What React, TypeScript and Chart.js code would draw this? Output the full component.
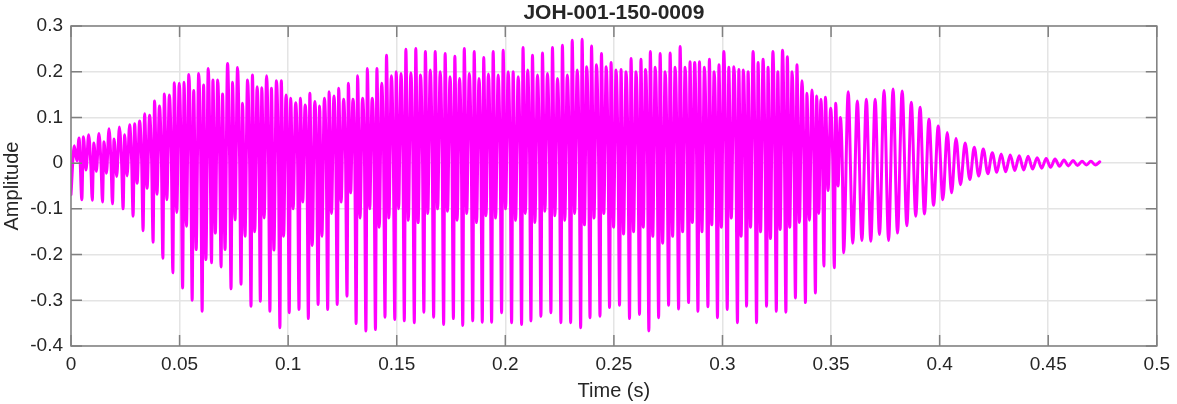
import React, { useEffect, useRef } from "react";
import { Chart, registerables } from "chart.js";

Chart.register(...registerables);

const TITLE = "JOH-001-150-0009";
const X_LABEL = "Time (s)";
const Y_LABEL = "Amplitude";

const xTicks = [0, 0.05, 0.1, 0.15, 0.2, 0.25, 0.3, 0.35, 0.4, 0.45, 0.5];
const yTicks = [-0.4, -0.3, -0.2, -0.1, 0, 0.1, 0.2, 0.3];

// opening samples before the first glottal pulse
const leadTime = [0, 0.0015, 0.0027, 0.0037];
const leadAmp = [-0.069, 0.038, 0.005, 0.055];

// voiced part: one entry per pitch cycle (time of the negative spike)
const cycleStart = [
  0.0050, 0.0098, 0.0145, 0.0191, 0.0240, 0.0286, 0.0332, 0.0378, 0.0423, 0.0469, 0.0514, 0.0558, 0.0604, 0.0647, 0.0691, 0.0737, 0.0783,
  0.0829, 0.0872, 0.0916, 0.0962, 0.1005, 0.1050, 0.1093, 0.1138, 0.1182, 0.1226, 0.1271, 0.1313, 0.1358, 0.1402, 0.1446, 0.1491, 0.1535, 0.1581, 0.1625, 0.1670,
  0.1716, 0.1761, 0.1804, 0.1850, 0.1894, 0.1937, 0.1983, 0.2029, 0.2075, 0.2118, 0.2164, 0.2210, 0.2256, 0.2301, 0.2347, 0.2390, 0.2436, 0.2480, 0.2526,
  0.2572, 0.2618, 0.2661, 0.2706, 0.2752, 0.2798, 0.2844, 0.2887, 0.2933, 0.2977, 0.3022, 0.3069, 0.3111, 0.3157, 0.3203, 0.3248, 0.3292, 0.3336, 0.3382, 0.3428,
  0.3467, 0.3515,
];
const spikeMin = [
  -0.080, -0.081, -0.085, -0.089, -0.100, -0.116, -0.148, -0.173, -0.208, -0.240, -0.273, -0.300, -0.324, -0.218, -0.227, -0.275, -0.265,
  -0.313, -0.302, -0.324, -0.360, -0.327, -0.320, -0.340, -0.309, -0.320, -0.309, -0.291, -0.351, -0.367, -0.364, -0.337, -0.342, -0.345, -0.349, -0.326, -0.337,
  -0.353, -0.340, -0.355, -0.345, -0.348, -0.348, -0.327, -0.349, -0.353, -0.345, -0.335, -0.327, -0.349, -0.349, -0.360, -0.338, -0.335, -0.316, -0.311,
  -0.340, -0.331, -0.367, -0.338, -0.311, -0.319, -0.305, -0.324, -0.314, -0.338, -0.320, -0.349, -0.313, -0.349, -0.313, -0.324, -0.326, -0.295, -0.305, -0.284,
  -0.225, -0.229,
];
const peakA = [
  0.058, 0.044, 0.047, 0.053, 0.062, 0.086, 0.108, 0.136, 0.151, 0.176, 0.177, 0.159, 0.171, 0.182, 0.151, 0.177, 0.131,
  0.193, 0.165, 0.164, 0.180, 0.142, 0.142, 0.153, 0.125, 0.156, 0.164, 0.175, 0.191, 0.207, 0.207, 0.236, 0.200, 0.249, 0.251, 0.244, 0.244,
  0.240, 0.234, 0.251, 0.244, 0.231, 0.244, 0.247, 0.200, 0.253, 0.236, 0.241, 0.253, 0.258, 0.269, 0.271, 0.256, 0.240, 0.220, 0.205,
  0.229, 0.227, 0.244, 0.240, 0.241, 0.255, 0.222, 0.222, 0.227, 0.215, 0.210, 0.205, 0.200, 0.220, 0.210, 0.200, 0.233, 0.215, 0.153, 0.147,
  0.144, 0.131,
];
const dipMin = [
  -0.015, -0.018, -0.022, -0.029, -0.028, -0.044, -0.055, -0.068, -0.080, -0.108, -0.138, -0.189, -0.211, -0.153, -0.189, -0.124, -0.160,
  -0.150, -0.120, -0.190, -0.160, -0.100, -0.085, -0.180, -0.160, -0.110, -0.085, -0.065, -0.120, -0.100, -0.140, -0.120, -0.100, -0.125, -0.130, -0.110, -0.100,
  -0.105, -0.125, -0.110, -0.130, -0.115, -0.120, -0.100, -0.125, -0.110, -0.130, -0.105, -0.115, -0.125, -0.110, -0.135, -0.120, -0.110, -0.140, -0.155,
  -0.150, -0.140, -0.160, -0.175, -0.160, -0.150, -0.130, -0.150, -0.135, -0.140, -0.120, -0.160, -0.140, -0.150, -0.165, -0.145, -0.140, -0.130, -0.125, -0.110,
  -0.060, -0.050,
];
const peakB = [
  0.062, 0.065, 0.075, 0.079, 0.084, 0.092, 0.105, 0.125, 0.149, 0.175, 0.194, 0.196, 0.207, 0.182, 0.218, 0.209, 0.182,
  0.167, 0.191, 0.180, 0.149, 0.132, 0.127, 0.135, 0.142, 0.147, 0.140, 0.140, 0.142, 0.142, 0.175, 0.191, 0.196, 0.198, 0.193, 0.204, 0.200,
  0.189, 0.185, 0.196, 0.185, 0.195, 0.193, 0.200, 0.189, 0.204, 0.193, 0.196, 0.185, 0.193, 0.204, 0.211, 0.215, 0.211, 0.204, 0.200,
  0.200, 0.205, 0.210, 0.200, 0.210, 0.210, 0.220, 0.210, 0.200, 0.244, 0.211, 0.204, 0.244, 0.227, 0.244, 0.247, 0.200, 0.180, 0.160, 0.140,
  0.120, 0.100,
];
// level of the shoulder just before each spike (inside the dense band)
const shoulder = [
  0.000, 0.002, 0.004, 0.005, 0.006, 0.008, 0.008, 0.010, 0.012, 0.014, 0.015, 0.015, 0.018, 0.015, 0.018, 0.015, 0.012,
  0.015, 0.012, 0.010, 0.010, 0.008, 0.008, 0.010, 0.008, 0.010, 0.010, 0.012, 0.015, 0.015, 0.018, 0.018, 0.020, 0.020, 0.020, 0.022, 0.020,
  0.020, 0.022, 0.020, 0.022, 0.020, 0.020, 0.022, 0.020, 0.022, 0.020, 0.022, 0.020, 0.022, 0.022, 0.020, 0.022, 0.020, 0.018, 0.018,
  0.018, 0.018, 0.020, 0.018, 0.020, 0.018, 0.020, 0.018, 0.018, 0.020, 0.018, 0.018, 0.015, 0.018, 0.015, 0.015, 0.012, 0.010, 0.008, 0.006,
  0.004, 0.002,
];
// where each read value sits inside its cycle (fraction of the period)
const voicedPhase = [0, 0.15, 0.4, 0.65, 0.85];

// decaying tail: trough times, trough values and the following peak values
const tailTroughTime = [
  0.3558, 0.3600, 0.3642, 0.3683, 0.3723, 0.3765, 0.3806, 0.3849, 0.3890, 0.3930,
  0.3972, 0.4015, 0.4055, 0.4096, 0.4139, 0.4180, 0.4222, 0.4263, 0.4304, 0.4346,
  0.4387, 0.4428, 0.4470, 0.4511, 0.4552, 0.4593, 0.4635, 0.4676, 0.4717,
];
const tailTrough = [
  -0.196, -0.175, -0.169, -0.171, -0.156, -0.169, -0.153, -0.137, -0.116, -0.111,
  -0.092, -0.080, -0.065, -0.047, -0.036, -0.028, -0.023, -0.020, -0.019, -0.016,
  -0.015, -0.013, -0.011, -0.009, -0.007, -0.006, -0.005, -0.004, -0.004,
];
const tailPeak = [
  0.156, 0.136, 0.140, 0.140, 0.159, 0.162, 0.158, 0.133, 0.122, 0.096,
  0.081, 0.067, 0.054, 0.044, 0.035, 0.031, 0.023, 0.020, 0.018, 0.016,
  0.015, 0.012, 0.010, 0.009, 0.007, 0.006, 0.004, 0.004, 0.003,
];

function buildWave() {
  const pts: { x: number; y: number }[] = [];
  leadTime.forEach((t, i) => pts.push({ x: t, y: leadAmp[i] }));
  for (let i = 0; i < cycleStart.length; i++) {
    const t = cycleStart[i];
    const next = i + 1 < cycleStart.length ? cycleStart[i + 1] : tailTroughTime[0];
    const P = next - t;
    const vals = [spikeMin[i], peakA[i], dipMin[i], peakB[i], shoulder[i]];
    voicedPhase.forEach((ph, k) => pts.push({ x: t + ph * P, y: vals[k] }));
  }
  for (let i = 0; i < tailTroughTime.length; i++) {
    const t = tailTroughTime[i];
    const P = i + 1 < tailTroughTime.length ? tailTroughTime[i + 1] - t : t - tailTroughTime[i - 1];
    pts.push({ x: t, y: tailTrough[i] });
    pts.push({ x: t + P / 2, y: tailPeak[i] });
  }
  return pts;
}

const FONT = "'Liberation Sans', Arial, Helvetica, sans-serif";
const TEXT = "#262626";
const AXIS = "#808080";
const GRID = "#e4e4e4";

const fmt = (v: number) => String(Math.round(v * 100) / 100);

const framePlugin = {
  id: "matlabFrame",
  afterDraw(chart: any) {
    const { ctx, chartArea: a, scales } = chart;
    const x = scales.x;
    const y = scales.y;
    ctx.save();
    ctx.strokeStyle = AXIS;
    ctx.lineWidth = 1.5;
    const L = 11;
    ctx.beginPath();
    xTicks.forEach((v) => {
      const px = x.getPixelForValue(v);
      ctx.moveTo(px, a.bottom);
      ctx.lineTo(px, a.bottom - L);
      ctx.moveTo(px, a.top);
      ctx.lineTo(px, a.top + L);
    });
    yTicks.forEach((v) => {
      const py = y.getPixelForValue(v);
      ctx.moveTo(a.left, py);
      ctx.lineTo(a.left + L, py);
      ctx.moveTo(a.right, py);
      ctx.lineTo(a.right - L, py);
    });
    ctx.stroke();
    ctx.strokeRect(a.left, a.top, a.right - a.left, a.bottom - a.top);

    const cx = (a.left + a.right) / 2;
    ctx.fillStyle = TEXT;
    ctx.textAlign = "center";
    ctx.textBaseline = "alphabetic";
    ctx.font = `bold 21px ${FONT}`;
    ctx.fillText(TITLE, cx, 18.5);
    ctx.font = `20px ${FONT}`;
    ctx.fillText(X_LABEL, cx, 396.5);
    ctx.translate(18, (a.top + a.bottom) / 2);
    ctx.rotate(-Math.PI / 2);
    ctx.fillText(Y_LABEL, 0, 0);
    ctx.restore();
  },
};

export default function App() {
  const ref = useRef<HTMLCanvasElement | null>(null);
  useEffect(() => {
    if (!ref.current) return;
    const chart = new Chart(ref.current, {
      type: "line",
      data: {
        datasets: [
          {
            data: buildWave(),
            borderColor: "#ff00ff",
            backgroundColor: "#ff00ff",
            borderWidth: 3,
            pointRadius: 0,
            cubicInterpolationMode: "monotone",
            fill: false,
            borderJoinStyle: "round",
            borderCapStyle: "round",
          },
        ],
      },
      options: {
        animation: false,
        responsive: false,
        maintainAspectRatio: false,
        devicePixelRatio: 1,
        layout: { padding: { left: 0, right: 16, top: 26, bottom: 0 } },
        plugins: {
          legend: { display: false },
          title: { display: false },
          tooltip: { enabled: false },
        },
        scales: {
          x: {
            type: "linear",
            min: 0,
            max: 0.5,
            afterBuildTicks: (s: any) => {
              s.ticks = xTicks.map((v) => ({ value: v }));
            },
            afterFit: (s: any) => {
              s.height = 58;
            },
            ticks: {
              autoSkip: false,
              maxRotation: 0,
              padding: 7,
              color: TEXT,
              font: { family: FONT, size: 19 },
              callback: (v: any) => fmt(Number(v)),
            },
            grid: { color: GRID, lineWidth: 1.5, drawTicks: false },
            border: { display: false },
          },
          y: {
            type: "linear",
            min: -0.4,
            max: 0.3,
            afterBuildTicks: (s: any) => {
              s.ticks = yTicks.map((v) => ({ value: v }));
            },
            afterFit: (s: any) => {
              s.width = 71;
            },
            ticks: {
              autoSkip: false,
              padding: 8,
              color: TEXT,
              font: { family: FONT, size: 19 },
              callback: (v: any) => fmt(Number(v)),
            },
            grid: { color: GRID, lineWidth: 1.5, drawTicks: false },
            border: { display: false },
          },
        },
      },
      plugins: [framePlugin],
    } as any);
    return () => chart.destroy();
  }, []);

  return (
    <div style={{ position: "absolute", left: 0, top: 0, width: 1177, height: 404, background: "#fff" }}>
      <canvas ref={ref} width={1177} height={404} style={{ width: 1177, height: 404, display: "block" }} />
    </div>
  );
}
